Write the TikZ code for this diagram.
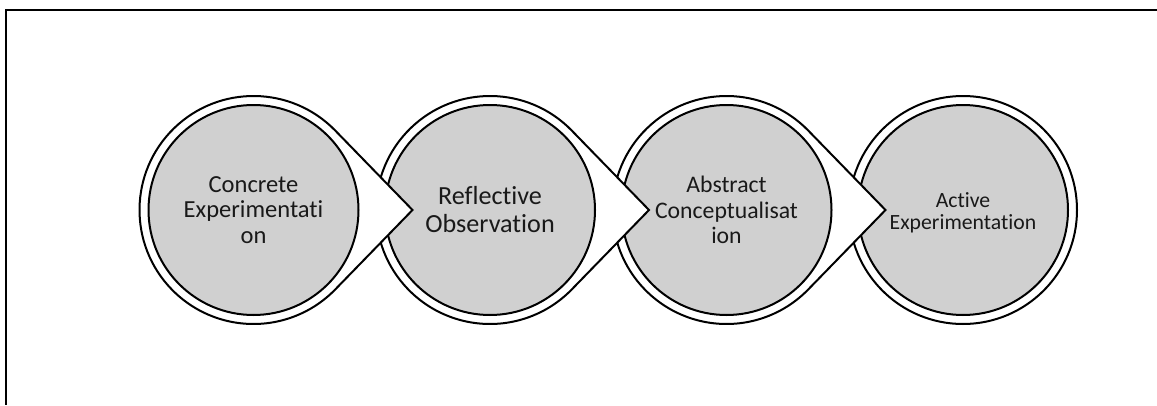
\documentclass[tikz,border=0pt]{standalone}
\usepackage{fontspec}
\setmainfont[Ligatures=NoCommon]{Carlito}
\definecolor{stepgray}{RGB}{208,208,208}
\begin{document}
\begin{tikzpicture}[x=0.75pt,y=0.75pt,
  ring/.style={draw=black,line width=1.5pt,fill=white,line join=miter,miter limit=10},
  disc/.style={draw=black,line width=1.5pt,fill=stepgray},
  steptext/.style={align=center,text=black!90,inner sep=0pt}]
\useasboundingbox (0,0) rectangle (1157,405);
% frame lines along the top and the left edge
\draw[line width=1.5pt] (1157,395) -- (6,395) -- (6,0);
% geometry of a stage: outer ring radius, inner disc radius, arrow tip distance, tangent angle
\def\R{114}\def\r{105}\def\tip{159}\def\ang{44.2}
% stages are drawn right to left so each arrow point lies over the next stage
% stage 4: plain ring
\path[ring] (963,195) circle[radius=\R];
\path[disc] (963,195) circle[radius=\r];
% stages 3, 2, 1: ring with an arrow point to the right
\foreach \cx in {726.5,490,253.5}{
  \path[ring] (\cx,195) ++(\ang:\R) arc[start angle=\ang,end angle=360-\ang,radius=\R]
     -- (\cx+\tip,195) -- cycle;
  \path[disc] (\cx,195) circle[radius=\r];
}
% stage labels
\node[steptext,font=\fontsize{18.4pt}{19.1pt}\selectfont] (s1) at (253.5,195) {Concrete\\Experimentati\\on};
\node[steptext,font=\fontsize{19.6pt}{21pt}\selectfont] (s2) at (490,195) {Reflective\\Observation};
\node[steptext,font=\fontsize{17.8pt}{19.1pt}\selectfont] (s3) at (726.5,195) {Abstract\\Conceptualisat\\ion};
\node[steptext,font=\fontsize{16.3pt}{16.3pt}\selectfont] (s4) at (963,192) {Active\\Experimentation};
\end{tikzpicture}
\end{document}
